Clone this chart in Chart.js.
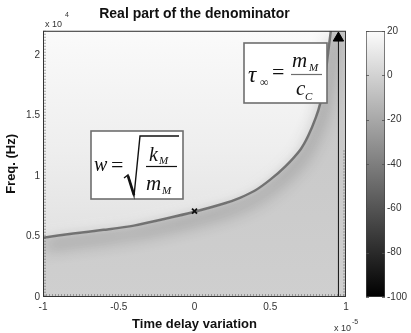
<!DOCTYPE html>
<html>
<head>
<meta charset="utf-8">
<script src="https://cdn.jsdelivr.net/npm/chart.js@4"></script>
<style>
  html, body { margin: 0; padding: 0; background: #fff; }
  #wrap { position: relative; width: 411px; height: 333px; }
  #main { position: absolute; left: 0; top: 0; }
  #cbar { position: absolute; left: 362px; top: 0; }
</style>
</head>
<body>
<div id="wrap">
  <canvas id="main" width="411" height="333"></canvas>
  <canvas id="cbar" width="49" height="333"></canvas>
</div>
<script>
// time delay variation (x 1e-5) and frequency of the dark ridge (x 1e4 Hz)
const delay = [-1, -0.8, -0.6, -0.4, -0.2, 0, 0.2, 0.3, 0.4, 0.5, 0.6, 0.7, 0.75, 0.8, 0.83, 0.86, 0.88, 0.9];
const ridgeFreq = [0.49, 0.525, 0.555, 0.59, 0.645, 0.705, 0.775, 0.82, 0.88, 0.97, 1.08, 1.22, 1.33, 1.48, 1.6, 1.8, 2.0, 2.2];
const markDelay = [0];
const markFreq = [0.71];
const tauDelay = [0.95, 0.95];
const tauFreq = [0, 2.14];
const xTicks = [-1, -0.5, 0, 0.5, 1];
const yTicks = [0, 0.5, 1, 1.5, 2];
const cbTicks = [20, 0, -20, -40, -60, -80, -100];
const xRange = [-1, 1];
const yRange = [0, 2.2];
const cbRange = [-100, 20];

Chart.defaults.font.family = '"Liberation Sans", Arial, sans-serif';
Chart.defaults.color = '#222';

const pts = (xs, ys) => xs.map((x, i) => ({ x: x, y: ys[i] }));

function vGrad(chart, stops) {
  const a = chart.chartArea;
  if (!a) return null;
  const g = chart.ctx.createLinearGradient(0, a.top, 0, a.bottom);
  stops.forEach(s => g.addColorStop(s[0], s[1]));
  return g;
}

const lowerStops = [[0, 'rgb(198,198,198)'], [0.6, 'rgb(203,203,203)'], [1, 'rgb(207,207,207)']];
const upperStops = [[0, 'rgb(250,250,250)'], [0.45, 'rgb(238,238,238)'], [0.8, 'rgb(225,225,225)'], [1, 'rgb(218,218,218)']];

const bgPlugin = {
  id: 'plotBg',
  beforeDatasetsDraw(chart) {
    const { ctx: c, chartArea: a } = chart;
    c.save();
    c.fillStyle = vGrad(chart, lowerStops);
    c.fillRect(a.left, a.top, a.right - a.left, a.bottom - a.top);
    c.restore();
  }
};

const shadowPlugin = {
  id: 'shadow',
  beforeDatasetDraw(chart, args) {
    const sh = chart.data.datasets[args.index].shadow;
    if (!sh) return;
    const c = chart.ctx;
    c.save();
    c.shadowColor = sh.color;
    c.shadowBlur = sh.blur;
    c.shadowOffsetX = sh.dx;
    c.shadowOffsetY = sh.dy;
  },
  afterDatasetDraw(chart, args) {
    if (chart.data.datasets[args.index].shadow) chart.ctx.restore();
  }
};

const framePlugin = {
  id: 'frame',
  afterDatasetsDraw(chart) {
    const { ctx: c, chartArea: a } = chart;
    c.save();
    // dense minor ticks along the edges
    c.strokeStyle = 'rgba(90,90,90,0.5)';
    c.lineWidth = 3;
    c.setLineDash([1, 2]);
    c.beginPath();
    c.moveTo(a.left + 1.5, a.top);
    c.lineTo(a.left + 1.5, a.bottom);
    c.moveTo(a.left, a.bottom - 1.5);
    c.lineTo(a.right, a.bottom - 1.5);
    c.moveTo(a.right - 1.5, a.top + (a.bottom - a.top) * 0.45);
    c.lineTo(a.right - 1.5, a.bottom);
    c.stroke();
    c.setLineDash([]);
    c.strokeStyle = '#333';
    c.lineWidth = 1;
    c.strokeRect(a.left + 0.5, a.top + 0.5, a.right - a.left - 1, a.bottom - a.top - 1);
    c.restore();
  }
};

function box(c, x, y, w, h) {
  c.fillStyle = '#fff';
  c.fillRect(x, y, w, h);
  c.strokeStyle = 'rgb(110,110,110)';
  c.lineWidth = 1.6;
  c.strokeRect(x, y, w, h);
}

const it = s => 'italic ' + s + 'px "Liberation Serif", "DejaVu Serif", serif';
const rm = s => s + 'px "Liberation Serif", "DejaVu Serif", serif';

const notePlugin = {
  id: 'notes',
  afterDraw(chart) {
    const c = chart.ctx;
    c.save();
    c.textBaseline = 'alphabetic';
    c.textAlign = 'left';

    // w = sqrt(k_M / m_M)
    box(c, 91, 131, 92, 68);
    c.fillStyle = '#111';
    c.font = it(20); c.fillText('w', 94, 171);
    c.font = rm(22); c.fillText('=', 111, 172);
    c.strokeStyle = '#111';
    c.lineWidth = 1.4;
    c.beginPath();
    c.moveTo(124, 178); c.lineTo(128, 175); c.lineTo(134, 196); c.lineTo(140, 136); c.lineTo(179, 136);
    c.stroke();
    c.lineWidth = 2.6;
    c.beginPath(); c.moveTo(128, 176); c.lineTo(134, 195); c.stroke();
    c.font = it(20); c.fillText('k', 149, 161);
    c.font = it(11); c.fillText('M', 159, 164);
    c.lineWidth = 1.2;
    c.beginPath(); c.moveTo(146, 166.5); c.lineTo(177, 166.5); c.stroke();
    c.font = it(21); c.fillText('m', 146, 190);
    c.font = it(11); c.fillText('M', 162, 194);

    // tau_inf = m_M / c_C
    box(c, 244, 43, 83, 60);
    c.fillStyle = '#111';
    c.font = it(23); c.fillText('\u03C4', 248, 82);
    c.font = rm(12); c.fillText('\u221E', 260, 86);
    c.font = rm(22); c.fillText('=', 272, 79);
    c.font = it(21); c.fillText('m', 292, 67);
    c.font = it(11); c.fillText('M', 309, 71);
    c.lineWidth = 1.2;
    c.beginPath(); c.moveTo(291, 74.5); c.lineTo(322, 74.5); c.stroke();
    c.font = it(21); c.fillText('c', 296, 95);
    c.font = it(11); c.fillText('C', 305, 100);

    // axis exponents
    c.fillStyle = '#333';
    c.font = '9px "Liberation Sans", Arial, sans-serif';
    c.fillText('x 10', 45, 27);
    c.fillText('x 10', 334, 331);
    c.font = '7px "Liberation Sans", Arial, sans-serif';
    c.fillText('4', 65, 17);
    c.fillText('-5', 352, 324);
    c.restore();
  }
};

new Chart(document.getElementById('main'), {
  type: 'line',
  data: {
    datasets: [
      {
        label: 'operating point', data: pts(markDelay, markFreq), showLine: false,
        pointStyle: 'crossRot', pointRadius: 3.5, borderColor: '#111', borderWidth: 1.8, order: 1
      },
      {
        label: 'tau inf', data: pts(tauDelay, tauFreq), borderColor: '#111', borderWidth: 1,
        pointRadius: [0, 6], pointStyle: 'triangle', pointBackgroundColor: '#000', pointBorderColor: '#000', order: 2
      },
      {
        label: 'ridge', data: pts(delay, ridgeFreq), borderColor: 'rgba(95,95,95,0.85)', borderWidth: 2.5,
        pointRadius: 0, tension: 0.3, order: 3,
        shadow: { color: 'rgba(0,0,0,0.95)', blur: 16, dx: 2, dy: 8 }
      },
      {
        label: 'halo', data: pts(delay, ridgeFreq), borderColor: 'rgba(240,240,240,0.9)', borderWidth: 2,
        pointRadius: 0, tension: 0.3, order: 4,
        shadow: { color: 'rgba(255,255,255,0.9)', blur: 10, dx: -2, dy: -5 }
      },
      {
        label: 'upper', data: pts(delay, ridgeFreq), borderWidth: 0, pointRadius: 0, tension: 0.3,
        fill: 'end', backgroundColor: ctx => vGrad(ctx.chart, upperStops), order: 5
      }
    ]
  },
  options: {
    responsive: false,
    animation: false,
    layout: { padding: { left: 0, right: 65, top: 0, bottom: 0 } },
    plugins: {
      legend: { display: false },
      tooltip: { enabled: false },
      title: {
        display: true, fullSize: false, text: 'Real part of the denominator', color: '#111',
        font: { size: 14, weight: 'bold' }, padding: { top: 6, bottom: 8 }
      }
    },
    scales: {
      x: {
        type: 'linear', min: xRange[0], max: xRange[1],
        afterBuildTicks: s => { s.ticks = xTicks.map(v => ({ value: v })); },
        afterFit: s => { s.height = 36; },
        grid: { display: false, drawTicks: false },
        border: { display: false },
        ticks: { font: { size: 10 }, color: '#333', padding: 4, maxRotation: 0, callback: v => String(v) },
        title: {
          display: true, text: 'Time delay variation', color: '#111',
          font: { size: 13, weight: 'bold' }, padding: { top: 0, bottom: 1 }
        }
      },
      y: {
        min: yRange[0], max: yRange[1],
        afterBuildTicks: s => { s.ticks = yTicks.map(v => ({ value: v })); },
        afterFit: s => { s.width = 43; },
        grid: { display: false, drawTicks: false },
        border: { display: false },
        ticks: { font: { size: 10 }, color: '#333', padding: 3, callback: v => String(v) },
        title: {
          display: true, text: 'Freq. (Hz)', color: '#111',
          font: { size: 13, weight: 'bold' }, padding: { top: 4, bottom: 0 }
        }
      }
    }
  },
  plugins: [bgPlugin, shadowPlugin, framePlugin, notePlugin]
});

const cbTickPlugin = {
  id: 'cbTicks',
  afterDatasetsDraw(chart) {
    const { ctx: c, chartArea: a, scales } = chart;
    c.save();
    c.strokeStyle = 'rgba(80,80,80,0.8)';
    c.lineWidth = 1;
    c.beginPath();
    cbTicks.forEach(v => {
      const y = Math.round(scales.y.getPixelForValue(v)) + 0.5;
      c.moveTo(a.left, y); c.lineTo(a.left + 3, y);
      c.moveTo(a.right - 3, y); c.lineTo(a.right, y);
    });
    c.stroke();
    c.restore();
  }
};

new Chart(document.getElementById('cbar'), {
  type: 'bar',
  data: {
    labels: [''],
    datasets: [{
      data: [cbRange],
      backgroundColor: ctx => vGrad(ctx.chart, [[0, 'rgb(252,252,252)'], [1, 'rgb(0,0,0)']]),
      borderColor: '#444', borderWidth: 1, borderSkipped: false,
      barPercentage: 1, categoryPercentage: 1
    }]
  },
  options: {
    responsive: false,
    animation: false,
    layout: { padding: { left: 4, right: 0, top: 31, bottom: 36 } },
    plugins: { legend: { display: false }, tooltip: { enabled: false } },
    scales: {
      x: { display: false },
      y: {
        position: 'right', min: cbRange[0], max: cbRange[1],
        afterBuildTicks: s => { s.ticks = cbTicks.map(v => ({ value: v })); },
        afterFit: s => { s.width = 26; },
        grid: { display: false, drawTicks: false },
        border: { display: false },
        ticks: { font: { size: 10 }, color: '#333', padding: 2, callback: v => String(v) }
      }
    }
  },
  plugins: [cbTickPlugin]
});
</script>
</body>
</html>
